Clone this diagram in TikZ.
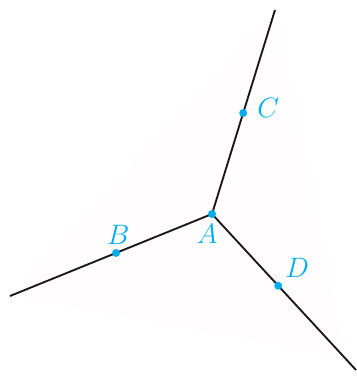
\documentclass[tikz,border=0pt]{standalone}
\usepackage{amsmath}
\usepackage{tikz}
\usetikzlibrary{positioning, calc}

\tikzset{
  ray/.style={line width=0.8pt, draw=black!90},
  pt/.style={circle, fill=cyan, inner sep=0pt, minimum size=3.4pt},
  lbl/.style={text=cyan, font=\fontsize{11.5}{13}\selectfont, inner sep=1pt}
}

\begin{document}
\begin{tikzpicture}[x=0.015cm, y=-0.015cm]
		\useasboundingbox (0,0) rectangle (357,378);
		
		% Koniec promieni
		\coordinate (Top) at (275,10);
		\coordinate (Left) at (10,296);
		\coordinate (Right) at (356,370);
		\coordinate (A) at (212,214);
		
		% Tlo (lekko rozowy trojkat)
		\fill[red!30!white, opacity=0.03] (Top) -- (Left) -- (345,358) -- cycle;
		
		% Promienie
		\draw[ray] (A) -- (Top);
		\draw[ray] (A) -- (Left);
		\draw[ray] (A) -- (Right);
		
		% Punkty
		\node[pt] (PA) at (A) {};
		\node[pt] (PB) at ($(A)!0.475!(Left)$) {};
		\node[pt] (PC) at ($(A)!0.495!(Top)$) {};
		\node[pt] (PD) at ($(A)!0.46!(Right)$) {};
		
		\node[lbl, below=1.5pt of PA, xshift=-2pt] (LA) {$A$};
		\node[lbl, above=0.5pt of PB, xshift=1pt] (LB) {$B$};
		\node[lbl, right=3pt of PC, yshift=2pt] (LC) {$C$};
		\node[lbl, above right=1pt and 0.5pt of PD] (LD) {$D$};
		
	\end{tikzpicture}
\end{document}
